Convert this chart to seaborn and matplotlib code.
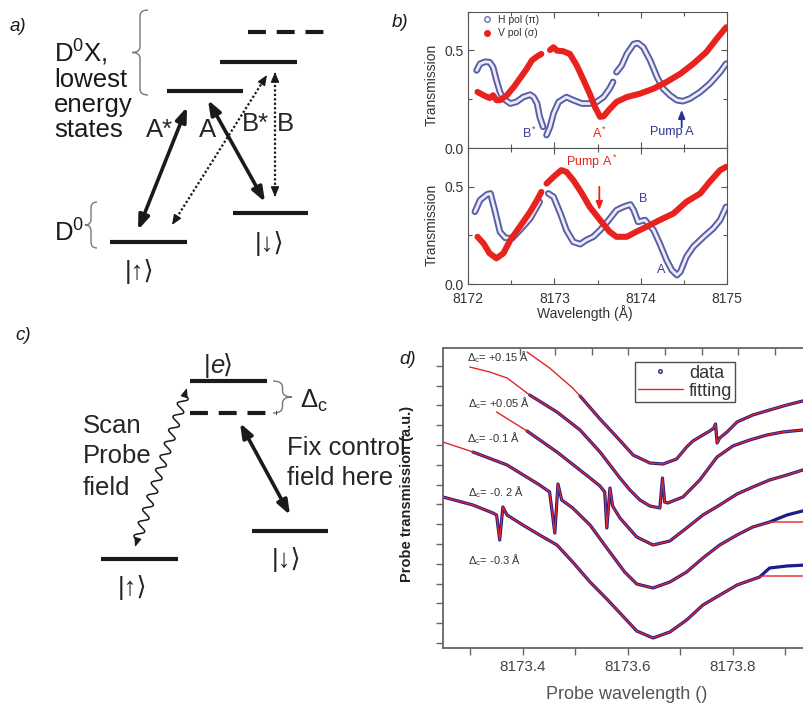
import numpy as np
import pandas as pd
import matplotlib
matplotlib.use("Agg")
import matplotlib.pyplot as plt
from matplotlib.path import Path
from matplotlib.patches import PathPatch
from matplotlib.lines import Line2D
import seaborn as sns

sns.set_theme(style="ticks")
plt.rcParams['font.family'] = ['Liberation Sans', 'DejaVu Sans']
plt.rcParams['mathtext.fontset'] = 'custom'
plt.rcParams['mathtext.rm'] = 'Liberation Sans'
plt.rcParams['mathtext.it'] = 'Liberation Sans:italic'
plt.rcParams['mathtext.bf'] = 'Liberation Sans:bold'
plt.rcParams['mathtext.fallback'] = 'stixsans'

# ---------------- panel b data (wavelength in A, transmission) ----------------
h_top_x = [8172.10, 8172.14, 8172.20, 8172.25, 8172.29, 8172.33, 8172.37, 8172.41, 8172.49, 8172.56,
           8172.64, 8172.72, 8172.76, 8172.80, 8172.83, 8172.87,
           8172.91, 8172.95, 8172.99, 8173.05, 8173.14, 8173.22, 8173.32, 8173.41, 8173.49, 8173.57,
           8173.64, 8173.68,
           8173.72, 8173.78, 8173.84, 8173.92, 8173.97, 8174.03, 8174.11, 8174.19, 8174.26, 8174.34,
           8174.42, 8174.49, 8174.57, 8174.69, 8174.80, 8174.92, 8174.99]
h_top_y = [0.396, 0.43, 0.44, 0.438, 0.413, 0.345, 0.286, 0.252, 0.227, 0.235,
           0.26, 0.272, 0.26, 0.227, 0.16, 0.108,
           0.066, 0.108, 0.176, 0.235, 0.26, 0.244, 0.227, 0.227, 0.235, 0.26,
           0.303, 0.337,
           0.387, 0.421, 0.48, 0.531, 0.535, 0.514, 0.447, 0.362, 0.303, 0.269,
           0.244, 0.239, 0.252, 0.286, 0.328, 0.387, 0.43]
h_top_seg = [0] * 16 + [1] * 12 + [2] * 17

v_top_x = [8172.11, 8172.18, 8172.25, 8172.29, 8172.33, 8172.37, 8172.45, 8172.53, 8172.60, 8172.68,
           8172.74, 8172.80, 8172.85,
           8172.95, 8172.99, 8173.03, 8173.10, 8173.18, 8173.26, 8173.34, 8173.41, 8173.47, 8173.53,
           8173.57, 8173.63, 8173.72, 8173.84, 8173.99, 8174.15, 8174.30, 8174.46, 8174.61, 8174.76,
           8174.88, 8174.99]
v_top_y = [0.286, 0.269, 0.255, 0.269, 0.244, 0.244, 0.269, 0.311, 0.354, 0.404,
           0.447, 0.467, 0.48,
           0.50, 0.514, 0.497, 0.494, 0.48, 0.421, 0.345, 0.277, 0.21, 0.159,
           0.162, 0.193, 0.235, 0.26, 0.277, 0.303, 0.337, 0.379, 0.43, 0.489,
           0.557, 0.616]
v_top_seg = [0] * 13 + [1] * 22

h_bot_x = [8172.08, 8172.14, 8172.22, 8172.26, 8172.31, 8172.37, 8172.43, 8172.51, 8172.60, 8172.72,
           8172.83,
           8172.93, 8172.99, 8173.07, 8173.14, 8173.22, 8173.30, 8173.37, 8173.45, 8173.53, 8173.63,
           8173.72, 8173.80, 8173.88, 8173.92, 8173.97, 8174.05, 8174.15, 8174.22, 8174.30, 8174.36,
           8174.42, 8174.46, 8174.53, 8174.61, 8174.73, 8174.84, 8174.92, 8174.99]
h_bot_y = [0.372, 0.432, 0.461, 0.466, 0.38, 0.269, 0.238, 0.235, 0.277, 0.337,
           0.423,
           0.466, 0.449, 0.363, 0.277, 0.217, 0.205, 0.226, 0.243, 0.277, 0.329,
           0.38, 0.397, 0.409, 0.38, 0.32, 0.329, 0.277, 0.209, 0.123, 0.072,
           0.046, 0.063, 0.14, 0.192, 0.243, 0.286, 0.329, 0.397]
h_bot_seg = [0] * 11 + [1] * 28

v_bot_x = [8172.11, 8172.18, 8172.25, 8172.33, 8172.41, 8172.49, 8172.60, 8172.72, 8172.80, 8172.85,
           8172.91, 8172.99, 8173.08, 8173.14, 8173.22, 8173.32, 8173.41, 8173.53, 8173.64, 8173.72,
           8173.84, 8173.95, 8174.07, 8174.22, 8174.38, 8174.53, 8174.69, 8174.80, 8174.92, 8174.99]
v_bot_y = [0.243, 0.209, 0.158, 0.132, 0.158, 0.226, 0.295, 0.372, 0.432, 0.474,
           0.517, 0.551, 0.586, 0.577, 0.534, 0.466, 0.397, 0.329, 0.269, 0.243,
           0.243, 0.269, 0.295, 0.329, 0.363, 0.423, 0.466, 0.526, 0.586, 0.603]
v_bot_seg = [0] * 10 + [1] * 20

# ---------------- panel d data (probe wavelength, offset transmission a.u.) ----------------
fit_x_p015 = [8173.408, 8173.451, 8173.495, 8173.509, 8173.547, 8173.579, 8173.610, 8173.642, 8173.667,
              8173.693, 8173.712, 8173.724, 8173.743, 8173.756, 8173.764, 8173.767, 8173.770, 8173.775,
              8173.789, 8173.808, 8173.838, 8173.870, 8173.903, 8173.933, 8173.940]
fit_y_p015 = [14.8, 14.0, 13.0, 12.6, 11.45, 10.55, 9.65, 9.25, 9.2,
              9.45, 10.05, 10.35, 10.65, 10.85, 11.0, 11.2, 10.25, 10.5,
              10.8, 11.3, 11.65, 11.9, 12.15, 12.35, 12.38]

fit_x_p005 = [8173.299, 8173.337, 8173.370, 8173.413, 8173.465, 8173.509, 8173.547, 8173.585, 8173.604,
              8173.623, 8173.642, 8173.661, 8173.666, 8173.670, 8173.676, 8173.705, 8173.737, 8173.770,
              8173.800, 8173.832, 8173.865, 8173.895, 8173.933, 8173.940]
fit_y_p005 = [14.05, 13.8, 13.5, 12.65, 11.8, 10.9, 9.8, 8.5, 7.9,
              7.4, 7.1, 7.0, 8.5, 7.3, 7.25, 7.55, 8.4, 9.55,
              10.1, 10.4, 10.65, 10.8, 10.9, 10.92]

fit_x_m01 = [8173.350, 8173.408, 8173.465, 8173.528, 8173.547, 8173.556, 8173.560, 8173.566, 8173.571,
             8173.585, 8173.617, 8173.648, 8173.680, 8173.712, 8173.743, 8173.775, 8173.808, 8173.838,
             8173.870, 8173.903, 8173.933, 8173.940]
fit_y_m01 = [11.8, 10.85, 9.8, 8.5, 8.1, 7.8, 6.0, 8.0, 7.1,
             6.5, 5.55, 5.15, 5.35, 6.0, 6.65, 7.15, 7.7, 8.05,
             8.4, 8.65, 8.9, 8.93]

fit_x_m02 = [8173.248, 8173.305, 8173.370, 8173.432, 8173.451, 8173.461, 8173.467, 8173.474, 8173.495,
             8173.528, 8173.560, 8173.594, 8173.617, 8173.648, 8173.680, 8173.712, 8173.743, 8173.775,
             8173.808, 8173.838, 8173.870, 8173.903, 8173.940]
fit_y_m02 = [10.3, 9.8, 9.15, 8.15, 7.8, 5.75, 8.2, 7.4, 7.0,
             6.15, 5.0, 3.8, 3.2, 3.0, 3.3, 3.8, 4.5, 5.15,
             5.65, 6.05, 6.3, 6.3, 6.3]

fit_x_m03 = [8173.248, 8173.305, 8173.343, 8173.350, 8173.356, 8173.362, 8173.370, 8173.400, 8173.432,
             8173.465, 8173.495, 8173.528, 8173.560, 8173.585, 8173.617, 8173.648, 8173.680, 8173.712,
             8173.743, 8173.808, 8173.851, 8173.857, 8173.940]
fit_y_m03 = [7.55, 7.15, 6.75, 6.65, 5.4, 7.05, 6.65, 6.15, 5.65,
             5.15, 4.3, 3.3, 2.45, 1.75, 0.85, 0.5, 0.8, 1.4,
             2.15, 3.15, 3.55, 3.6, 3.6]

# where the measured (blue) trace starts, and where it departs from the fit at the right end
data_start = [8173.509, 8173.413, 8173.408, 8173.305, 8173.248]
tail_x_m02 = [8173.870, 8173.903, 8173.940]
tail_y_m02 = [6.3, 6.65, 6.9]
tail_x_m03 = [8173.851, 8173.870, 8173.903, 8173.940]
tail_y_m03 = [3.55, 4.0, 4.1, 4.15]

d_labels = ["+0.15", "+0.05", "-0.1", "-0. 2", "-0.3"]
d_label_x = [8173.293, 8173.295, 8173.293, 8173.295, 8173.295]
d_label_y = [14.55, 12.25, 10.5, 7.8, 4.4]

# ---------------- schematic geometry (figure pixels) ----------------
a_levels = [(167, 243, 91), (220, 297, 62), (233, 308, 213), (110, 187, 242)]
a_dashed = (248, 325, 32)
a_solid_arrows = [((138, 230), (187, 107)), ((208, 100), (265, 202))]
a_dotted_arrows = [((172, 225), (267, 75)), ((275, 72), (275, 197))]
c_levels = [(190, 267, 381), (252, 328, 531), (101, 178, 559)]
c_dashed = (190, 277, 413)
c_arrow = ((240, 423), (290, 515))
c_wave = ((135, 547), (187, 388))

H_COL = '#5a5ea8'
V_COL = '#e8231f'
NAVY = '#1c1c8a'
FIT_RED = '#e0262a'

fig = plt.figure(figsize=(8.04, 7.07), dpi=100)
fig.patch.set_facecolor('white')

# overlay in pixel units for the schematics
ov = fig.add_axes([0, 0, 1, 1])
ov.set_xlim(0, 804)
ov.set_ylim(707, 0)
ov.axis('off')


def level(x0, x1, y, dashed=False):
    if dashed:
        ov.plot([x0, x1], [y, y], color='k', lw=3, dashes=(4.3, 2.6), solid_capstyle='butt')
    else:
        ov.plot([x0, x1], [y, y], color='k', lw=3, solid_capstyle='butt')


def head(tip, tail, hl=0.6, hw=0.25, lw=1.2):
    ov.annotate('', xy=tip, xytext=tail,
                arrowprops=dict(arrowstyle=f'-|>,head_length={hl},head_width={hw}',
                                mutation_scale=10, lw=lw, color='k', shrinkA=0, shrinkB=0))


def solid_arrow(p0, p1):
    ov.annotate('', xy=p1, xytext=p0,
                arrowprops=dict(arrowstyle='<|-|>,head_length=0.85,head_width=0.32',
                                mutation_scale=10, lw=2.6, color='k', shrinkA=0, shrinkB=0))


def dotted_arrow(p0, p1):
    p0, p1 = np.array(p0, float), np.array(p1, float)
    u = (p1 - p0) / np.hypot(*(p1 - p0))
    ov.plot([p0[0] + 4 * u[0], p1[0] - 4 * u[0]], [p0[1] + 4 * u[1], p1[1] - 4 * u[1]],
            color='k', lw=1.6, ls=(0, (1, 1)))
    head(tuple(p1), tuple(p1 - 3 * u), lw=1.0)
    head(tuple(p0), tuple(p0 + 3 * u), lw=1.0)


def brace(x_end, x_tip, y0, y1, color='#777777'):
    xm = (x_end + x_tip) / 2
    ym = (y0 + y1) / 2
    r = min(6, (y1 - y0) / 5)
    verts = [(x_end, y0), (xm, y0), (xm, y0 + r), (xm, ym - r), (xm, ym), (x_tip, ym),
             (xm, ym), (xm, ym + r), (xm, y1 - r), (xm, y1), (x_end, y1)]
    codes = [Path.MOVETO, Path.CURVE3, Path.CURVE3, Path.LINETO, Path.CURVE3, Path.CURVE3,
             Path.CURVE3, Path.CURVE3, Path.LINETO, Path.CURVE3, Path.CURVE3]
    ov.add_patch(PathPatch(Path(verts, codes), fill=False, ec=color, lw=1.0))


BIG = 18.5

# ---- panel a ----
ov.text(10, 31, 'a)', fontsize=13.5, fontstyle='italic', color='k')
for s, yb in zip(['D$^0$X,', 'lowest', 'energy', 'states'], [62, 87, 112, 137]):
    ov.text(54, yb, s, fontsize=BIG, va='baseline', color='k')
brace(148, 132, 10, 95)
brace(97, 85, 202, 248)
ov.text(54, 242, 'D$^0$', fontsize=BIG, va='baseline', color='k')
for x0, x1, y in a_levels:
    level(x0, x1, y)
level(*a_dashed, dashed=True)
for p0, p1 in a_solid_arrows:
    solid_arrow(p0, p1)
for p0, p1 in a_dotted_arrows:
    dotted_arrow(p0, p1)
ov.text(146, 137, 'A*', fontsize=BIG, va='baseline')
ov.text(199, 137, 'A', fontsize=BIG, va='baseline')
ov.text(242, 131, 'B*', fontsize=BIG, va='baseline')
ov.text(277, 131, 'B', fontsize=BIG, va='baseline')
ov.text(270, 243, '|↓⟩', fontsize=BIG, ha='center', va='center')
ov.text(140, 271, '|↑⟩', fontsize=BIG, ha='center', va='center')

# ---- panel c ----
ov.text(15, 340, 'c)', fontsize=13.5, fontstyle='italic', color='k')
for x0, x1, y in c_levels:
    level(x0, x1, y)
level(*c_dashed, dashed=True)
brace(273, 292, 381, 413)
ov.text(300, 408, 'Δ$_{\\rm c}$', fontsize=BIG, va='baseline', color='#222222')
# |e> ket: bar, italic e, angle bracket
ov.text(204, 366, '|', fontsize=BIG, ha='left', va='center')
ov.text(210, 366, 'e', fontsize=BIG, fontstyle='italic', ha='left', va='center')
ov.text(223, 366, '⟩', fontsize=BIG, ha='left', va='center')
ov.text(287, 560, '|↓⟩', fontsize=BIG, ha='center', va='center')
ov.text(133, 587, '|↑⟩', fontsize=BIG, ha='center', va='center')
for s, yb in zip(['Scan', 'Probe', 'field'], [433, 463, 495]):
    ov.text(83, yb, s, fontsize=BIG, va='baseline')
for s, yb in zip(['Fix control', 'field here'], [455, 485]):
    ov.text(287, yb, s, fontsize=BIG, va='baseline')
solid_arrow(*c_arrow)
# wavy probe photon
w0, w1 = np.array(c_wave[0], float), np.array(c_wave[1], float)
u = (w1 - w0) / np.hypot(*(w1 - w0))
nrm = np.array([-u[1], u[0]])
t = np.linspace(0.04, 0.96, 500)
wave = 4.5 * np.sin(2 * np.pi * 12 * t)
wx = w0[0] + t * (w1 - w0)[0] + nrm[0] * wave
wy = w0[1] + t * (w1 - w0)[1] + nrm[1] * wave
ov.plot(wx, wy, color='k', lw=1.1)
head(tuple(w1), tuple(w1 - 6 * u), hl=0.55, hw=0.22, lw=0.8)
head(tuple(w0), tuple(w0 + 6 * u), hl=0.55, hw=0.22, lw=0.8)

# panel labels b and d
ov.text(392, 27, 'b)', fontsize=13.5, fontstyle='italic', color='k')
ov.text(399, 364, 'd)', fontsize=13.5, fontstyle='italic', color='k')

# ---------------- panel b axes ----------------
W, H = 804, 707
axb1 = fig.add_axes([468 / W, 1 - 148 / H, 259 / W, 136 / H])
axb2 = fig.add_axes([468 / W, 1 - 284 / H, 259 / W, 136 / H])


def pol_trace(ax, x, y, seg, kind):
    df = pd.DataFrame({'x': x, 'y': y, 'seg': seg})
    if kind == 'H':
        sns.lineplot(data=df, x='x', y='y', units='seg', estimator=None, sort=False,
                     color=H_COL, lw=4.8, ax=ax, legend=False, solid_capstyle='round')
        sns.lineplot(data=df, x='x', y='y', units='seg', estimator=None, sort=False,
                     color='#ececf6', lw=2.0, ax=ax, legend=False, solid_capstyle='round')
    else:
        sns.lineplot(data=df, x='x', y='y', units='seg', estimator=None, sort=False,
                     color=V_COL, lw=4.4, ax=ax, legend=False, solid_capstyle='round')


pol_trace(axb1, h_top_x, h_top_y, h_top_seg, 'H')
pol_trace(axb1, v_top_x, v_top_y, v_top_seg, 'V')
pol_trace(axb2, h_bot_x, h_bot_y, h_bot_seg, 'H')
pol_trace(axb2, v_bot_x, v_bot_y, v_bot_seg, 'V')

for ax, ytop, lab_y in ((axb1, 0.694, 0.463), (axb2, 0.70, 0.434)):
    ax.set_xlim(8172, 8175)
    ax.set_ylim(0, ytop)
    ax.set_xticks([8172, 8173, 8174, 8175])
    ax.set_xticks([8172.5, 8173.5, 8174.5], minor=True)
    ax.set_yticks([0.0, 0.5])
    ax.set_yticks([0.25], minor=True)
    ax.set_yticklabels(['0.0', '0.5'])
    ax.tick_params(which='both', direction='in', top=True, right=True, color='#555555',
                   labelsize=10, labelcolor='#333333', pad=3)
    ax.tick_params(which='major', length=4, width=0.8)
    ax.tick_params(which='minor', length=3, width=0.8)
    for sp in ax.spines.values():
        sp.set_color('#555555')
        sp.set_linewidth(0.8)
    ax.set_ylabel('Transmission', fontsize=10, color='#333333')
    ax.yaxis.set_label_coords(-0.112, lab_y)
    ax.set_xlabel('')
axb1.set_xticklabels([])
axb2.set_xticklabels(['8172', '8173', '8174', '8175'])
axb2.tick_params(axis='x', pad=6)
axb2.set_xlabel('Wavelength (Å)', fontsize=10, color='#333333')
axb2.xaxis.set_label_coords(0.452, -0.155)

hb = [Line2D([], [], ls='none', marker='o', ms=4, mfc='none', mec=H_COL, mew=0.9),
      Line2D([], [], ls='none', marker='o', ms=4, mfc=V_COL, mec=V_COL)]
lb = axb1.legend(hb, ['H pol (π)', 'V pol (σ)'], loc='upper left',
                 bbox_to_anchor=(479 / W, 1 - 12 / H), bbox_transform=fig.transFigure,
                 frameon=False, fontsize=7.5, handlelength=1.0, handletextpad=0.6,
                 labelspacing=0.35, borderpad=0.25, borderaxespad=0)
for txt in lb.get_texts():
    txt.set_color('#333333')

axb1.text(8172.718, 0.076, 'B$^*$', color='#3b3f95', fontsize=9, ha='center', va='center')
axb1.text(8173.529, 0.076, 'A$^*$', color=V_COL, fontsize=9, ha='center', va='center')
axb1.text(8174.363, 0.081, 'Pump A', color='#2d3290', fontsize=9, ha='center', va='center')
axb1.annotate('', xy=(8174.475, 0.195), xytext=(8174.475, 0.105),
              arrowprops=dict(arrowstyle='-|>,head_length=0.5,head_width=0.2', mutation_scale=10,
                              color='#2d3290', lw=1.3, shrinkA=0, shrinkB=0))
axb2.text(8173.436, 0.627, 'Pump A$^*$', color=V_COL, fontsize=9, ha='center', va='center')
axb2.annotate('', xy=(8173.521, 0.38), xytext=(8173.521, 0.50),
              arrowprops=dict(arrowstyle='-|>,head_length=0.5,head_width=0.2', mutation_scale=10,
                              color=V_COL, lw=1.3, shrinkA=0, shrinkB=0))
axb2.text(8174.024, 0.435, 'B', color='#3b3f95', fontsize=9, ha='center', va='center')
axb2.text(8174.243, 0.072, 'A', color='#3b3f95', fontsize=9, ha='center', va='center')

# ---------------- panel d axes ----------------
axd = fig.add_axes([443 / W, 1 - 648 / H, 377 / W, 300 / H])
curves = [(fit_x_p015, fit_y_p015, None, None),
          (fit_x_p005, fit_y_p005, None, None),
          (fit_x_m01, fit_y_m01, None, None),
          (fit_x_m02, fit_y_m02, tail_x_m02, tail_y_m02),
          (fit_x_m03, fit_y_m03, tail_x_m03, tail_y_m03)]
for (fx, fy, tx, ty), x_start in zip(curves, data_start):
    dx = [x for x in fx if x >= x_start]
    dy = [y for x, y in zip(fx, fy) if x >= x_start]
    if tx is not None:
        keep = [i for i, x in enumerate(dx) if x < tx[0]]
        dx = [dx[i] for i in keep] + tx
        dy = [dy[i] for i in keep] + ty
    sns.lineplot(x=dx, y=dy, sort=False, estimator=None, color=NAVY, lw=2.3, ax=axd)
    sns.lineplot(x=fx, y=fy, sort=False, estimator=None, color=FIT_RED, lw=1.0, ax=axd)

for lab, lx, ly in zip(d_labels, d_label_x, d_label_y):
    axd.text(lx, ly, 'Δ$_{\\rm c}$= ' + lab + ' Å', fontsize=8, color='#333333', va='center')

axd.set_xlim(8173.248, 8173.966)
axd.set_ylim(0, 15)
axd.set_xticks([8173.4, 8173.6, 8173.8])
axd.set_xticklabels(['8173.4', '8173.6', '8173.8'])
axd.set_xticks([8173.3, 8173.5, 8173.7, 8173.9], minor=True)
axd.set_yticks([0.25, 1.24, 2.23, 3.22, 4.21, 5.2, 6.19, 7.18, 8.17, 9.16, 10.15, 11.14,
                12.13, 13.12, 14.11])
axd.set_yticklabels([])
axd.tick_params(which='both', direction='out', length=5, width=1.0, color='#666666',
                labelsize=11, labelcolor='#444444', pad=3.5)
for sp in axd.spines.values():
    sp.set_color('#666666')
    sp.set_linewidth(1.3)
axd.set_ylabel('Probe transmission (a.u.)', fontsize=10.5, fontweight='bold', color='#222222')
axd.yaxis.set_label_coords(-0.077, 0.513)
axd.set_xlabel('Probe wavelength ()', fontsize=13, color='#555555')
axd.xaxis.set_label_coords(0.488, -0.127)

axt = axd.twiny()
axt.set_xlim(axd.get_xlim())
axt.set_xticks([8173.394, 8173.461, 8173.531, 8173.600, 8173.671, 8173.741, 8173.810, 8173.880,
                8173.950])
axt.set_xticklabels([])
axt.tick_params(axis='x', direction='in', length=5, width=1.0, color='#666666')
for sp in axt.spines.values():
    sp.set_visible(False)

hd = [Line2D([], [], ls='none', marker='o', ms=2.5, mfc='white', mec=NAVY, mew=1.0),
      Line2D([], [], color=FIT_RED, lw=1.0)]
ld = axd.legend(hd, ['data', 'fitting'], loc='upper left',
                bbox_to_anchor=(635 / W, 1 - 362 / H), bbox_transform=fig.transFigure,
                frameon=True, fancybox=False, fontsize=13, handlelength=2.5,
                handletextpad=0.35, borderpad=0.15, labelspacing=0.05, borderaxespad=0)
ld.get_frame().set_edgecolor('#222222')
ld.get_frame().set_linewidth(1.0)
for txt in ld.get_texts():
    txt.set_color('#333333')

fig.savefig('out.png', dpi=100)
